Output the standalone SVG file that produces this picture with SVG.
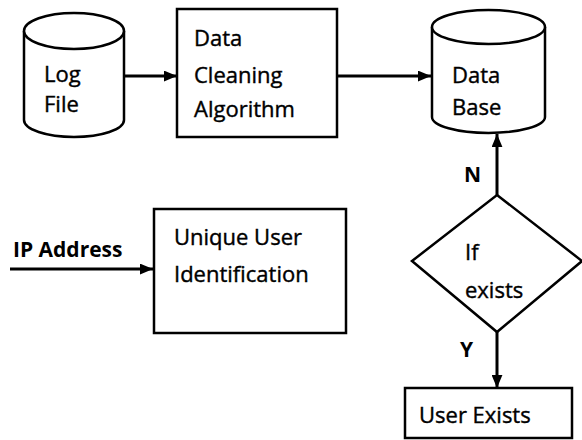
<svg xmlns="http://www.w3.org/2000/svg" width="582" height="440" viewBox="0 0 582 440">
<defs>
<marker id="ah" viewBox="0 0 12 10" refX="12" refY="5" markerWidth="13" markerHeight="11" markerUnits="userSpaceOnUse" orient="auto">
<path d="M0,0 L12,5 L0,10 z" fill="#000"/>
</marker>
<style>
.s{fill:#fff;stroke:#000;stroke-width:2.5}
.t{font-family:"Open Sans","Noto Sans",sans-serif;font-size:22px;fill:#000;stroke:#000;stroke-width:0.4}
.b{font-family:"Open Sans","Noto Sans",sans-serif;font-size:21px;font-weight:bold;fill:#000}
.c{fill:none;stroke:#000;stroke-width:3}
</style>
</defs>
<g id="connectors">
<line class="c" x1="125" y1="76" x2="177" y2="76" marker-end="url(#ah)"/>
<line class="c" x1="338" y1="76" x2="431" y2="76" marker-end="url(#ah)"/>
<line class="c" x1="497" y1="195" x2="497" y2="134" marker-end="url(#ah)"/>
<line class="c" x1="497" y1="332" x2="497" y2="388" marker-end="url(#ah)"/>
<line class="c" x1="10" y1="269" x2="153" y2="269" marker-end="url(#ah)"/>
<text class="b" x="464" y="182">N</text>
<text class="b" x="460" y="357">Y</text>
<text class="b" x="13" y="257">IP Address</text>
</g>
<g id="logfile">
<path class="s" d="M24,31 L24,120 A50,17 0 0 0 124,120 L124,31"/>
<ellipse class="s" cx="74" cy="31" rx="50" ry="18"/>
<text class="t" x="44" y="82">Log</text>
<text class="t" x="44" y="112">File</text>
</g>
<g id="cleaning">
<rect class="s" x="177" y="9" width="160" height="128"/>
<text class="t" x="194" y="46">Data</text>
<text class="t" x="194" y="83">Cleaning</text>
<text class="t" x="194" y="117">Algorithm</text>
</g>
<g id="database">
<path class="s" d="M432,27 L432,117 A56.5,16 0 0 0 545,117 L545,27"/>
<ellipse class="s" cx="488.5" cy="27" rx="56.5" ry="17"/>
<text class="t" x="452" y="83">Data</text>
<text class="t" x="452" y="115">Base</text>
</g>
<g id="unique">
<rect class="s" x="154" y="209" width="192" height="124"/>
<text class="t" x="174" y="245">Unique User</text>
<text class="t" x="174" y="282">Identification</text>
</g>
<g id="decision">
<polygon class="s" points="497,195 582,261 497,332 412,261"/>
<text class="t" x="465" y="260">If</text>
<text class="t" x="465" y="298">exists</text>
</g>
<g id="userexists">
<rect class="s" x="405" y="388" width="167" height="50"/>
<text class="t" x="419" y="423">User Exists</text>
</g>
</svg>
